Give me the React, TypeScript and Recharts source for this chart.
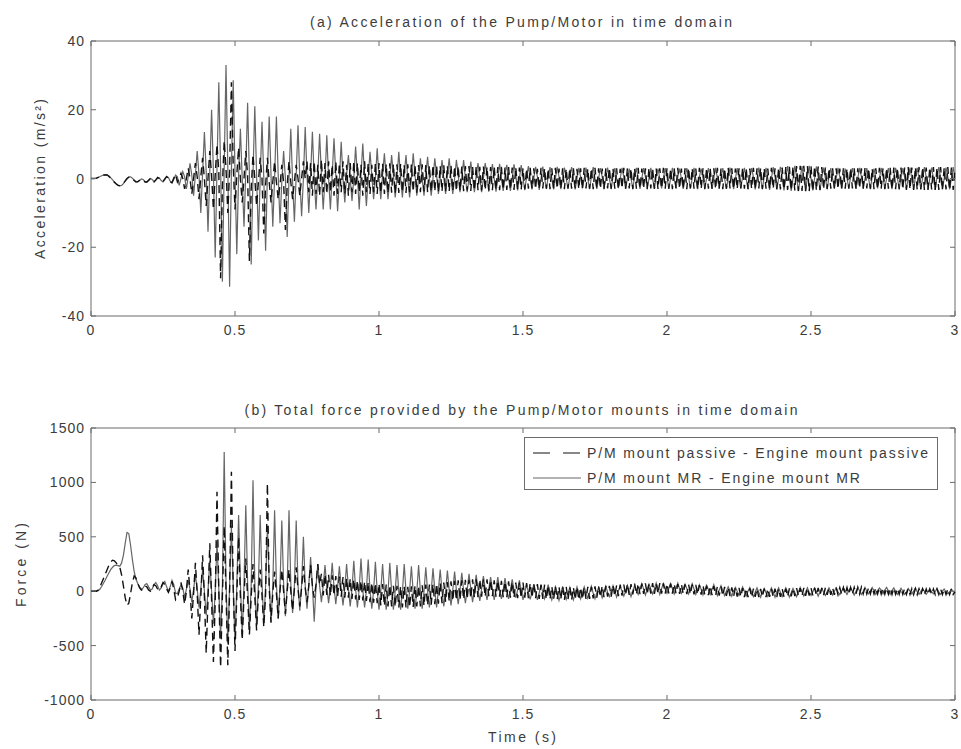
import React from 'react';
import { LineChart, Line, XAxis, YAxis, ReferenceArea, Legend } from 'recharts';

// sample step of the traces (s)
const DT = 0.00625;

const timeTicks = [0, 0.5, 1, 1.5, 2, 2.5, 3];
const accTicks = [-40, -20, 0, 20, 40];
const forceTicks = [-1000, -500, 0, 500, 1000, 1500];

const seriesNames = ['P/M mount passive - Engine mount passive', 'P/M mount MR - Engine mount MR'];

// (a) acceleration, m/s^2 -- MR mounts (solid)
const accMrEarly = [0, 0, 0, 0.1, 0.3, 0.6, 0.8, 1, 1.1, 1, 0.7, 0.2, -0.4, -1, -1.5, -1.9, -2.1, -2, -1.5, -0.8,
  -0.1, 0.4, 0.5, 0.1, -0.5, -0.9, -1, -0.6, -0.1, -0.3, -0.9, -1.1, -0.6, 0, -0.3, -0.9, -0.5, 0.2, 0.1, -0.6,
  -1, -0.3, 0.5, 0.3, -0.8, -1.3, -0.2, 1];
const accMrBurst = [0.5, -2, 0, 2, 0.5, -3, 0.5, 4.4, 1, -5, 1, 8, 1, -10, 1.5, 13.5, 2, -15.5, 2, 20,
  2, -23, 3, 28, 3, -30, 3, 33, 3, -31.5, 2, 28.6, 2, -22, 1, 14.5, 0, -14, 2, 22,
  1, -25, 1, 21, 1, -18, 0, 16.5, 0, -21, 1, 18, 1, -14, 0, 18, 1, -13, -1, 8,
  0, -17, 0, 14.5, -1, -12.6, 1, 15.5, 0, -11, 0, 15, 1, -10, 1, 13.6, 0, -9, 1, 13,
  1, -9, 0, 12.6, 0, -9, 1, 11.7, 1, -9.5, 0, 10.7, 0, -7, 1, 6.8, 0, -6.5, 0, 9.3,
  1, -9, 1, 10.2, 0, -8, 0, 7.8, 1, -6, 0, 8.8];
const accMrDecay = [0, -6, 1, 7.3, 0, -6, 0, 6.8, 1, -5.5, 0, 7.8, 0, -5.5, 1, 6.8, 0, -5.5, 0, 7.3,
  1, -5, 0, 5.9, 0, -5, 1, 6.3, 0, -5, 0, 5.9, 1, -4.5, 0, 5.4, 0, -4.5, 1, 5.9,
  0, -4.5, 0, 5.4, 1, -4, 0, 5.4, 0, -4, 0, 4.9, 0, -4, 1, 4.5, 0, -4, 0, 4.5,
  1, -3.8, 0, 4.2, 0, -3.8, 0, 4.3, 0, -3.6, 1, 4, 0, -3.6, 0, 4.1, 1, -3.5, 0, 3.9];
const accMrTail = [0, -3.4, 0.5, 3.6, 0, -3.2, 0, 3.4, 0.5, -3.3, 0, 3.5, 0, -3, 0.5, 3.3, 0, -3.2, 0, 3.4,
  0.5, -3.1, 0, 3.2, 0, -3, 0.5, 3.3, 0, -3.2, 0, 3.1, 0.5, -2.9, 0, 3.2, 0, -3.1, 0.5, 3.3,
  0, -3, 0, 3, 0.5, -2.9, 0, 3.2, 0, -3.1, 0.5, 3, 0, -2.8, 0, 3.1, 0.5, -3, 0, 2.9,
  0, -2.9, 0.5, 3.1, 0, -3, 0, 3, 0.5, -2.8, 0, 3.1, 0, -3, 0.5, 2.9, 0, -2.9, 0, 3,
  0.5, -3, 0, 3.1, 0, -2.8, 0.5, 2.9, 0, -3, 0, 3, 0.5, -2.9, 0, 3.1, 0, -3.1, 0.5, 2.9,
  0, -2.9, 0, 3, 0.5, -3, 0, 3.1, 0, -2.8, 0.5, 3, 0, -3, 0, 3.2, 0.5, -3.1, 0, 3,
  0, -2.9, 0.5, 3.1, 0, -3, 0, 3, 0.5, -3.2, 0, 3.2, 0, -3, 0.5, 3.1, 0, -3.3, 0, 3.3,
  0.5, -3.2, 0, 3.4, 0, -3.5, 0.5, 3.6, 0, -3.6, 0, 3.7, 0.5, -3.7, 0, 3.6, 0, -3.6, 0.5, 3.7,
  0, -3.5, 0, 3.5, 0.5, -3.3, 0, 3.2, 0, -3, 0.5, 3, 0, -2.9, 0, 3.1, 0.5, -3, 0, 2.9,
  0, -2.8, 0.5, 3, 0, -3, 0, 3.1, 0.5, -2.9, 0, 3, 0, -3.1, 0.5, 2.9, 0, -2.9, 0, 3.1,
  0.5, -3, 0, 3, 0, -3.1, 0.5, 3.1, 0, -2.9, 0, 3, 0.5, -3, 0, 3.2, 0, -3.2, 0.5, 3.1,
  0, -3, 0, 3.3, 0.5, -3.2, 0, 3.2, 0, -3.3, 0.5, 3.3, 0, -3.1, 0, 3.2, 0.5, -3.2, 0, 3.3,
  0];

// (a) acceleration, m/s^2 -- passive mounts (dashed)
const accPassiveEarly = [0, 0, 0, 0.1, 0.3, 0.5, 0.8, 1, 1, 1, 0.6, 0.1, -0.5, -1.1, -1.6, -2, -2.1, -1.9, -1.4, -0.7,
  0, 0.4, 0.4, 0, -0.6, -1, -0.9, -0.5, -0.2, -0.4, -1, -1, -0.5, 0, -0.4, -1, -0.4, 0.3, 0, -0.7,
  -0.9, -0.1, 0.6, 0.1, -1, -1.2, 0.1, 1.2];
const accPassiveBurst = [-1, 0, 1.5, 0, -3, 0, 3, 0, -4.5, 0, 4.5, 0.5, -6, 0.5, 6, 0, -8, 0, 8, 1,
  -9, 1, 10, 2, -29, -2, 11, 3, -10, 2, 28, 4, -9, 1, 9, 0, -7, 0, 8, 1,
  -24, -3, 7, 0, -8, -1, 6, 0, -16, -2, 6, -1, -7, -1, 5, -1, -6, -2, 4, -1,
  -15, -2, 5, -1, -6, -1, 4, 0, -5, 0, 5, 0,
  5, -4, 4.5, -5, 5, -4.5, 4, -5, 5.5, -4, 4.5, -4.5, 5, -4, 4, -5, 5, -4.5, 4.5, -4,
  5, -4.5, 4, -5, 4.5, -4, 5, -4.5, 4.5, -4, 4, -5, 5, -4, 4.5, -4.5, 4, -4, 4.5, -4.5];
const accPassiveDecay = [4.5, -4.2, 4.3, -4.5, 4.2, -4.3, 4.4, -4.1, 4.2, -4.4, 4.1, -4.2, 4.3, -4, 4, -4.2, 4.1, -4, 4.2, -3.9,
  4, -4.1, 3.9, -4, 4.1, -3.8, 3.9, -4, 3.8, -3.9, 4, -3.8, 3.8, -3.9, 3.7, -3.8, 3.9, -3.7, 3.7, -3.8,
  3.8, -3.6, 3.6, -3.7, 3.7, -3.6, 3.5, -3.7, 3.6, -3.5, 3.6, -3.6, 3.5, -3.5, 3.6, -3.4, 3.4, -3.5, 3.5, -3.4,
  3.4, -3.5, 3.3, -3.4, 3.5, -3.3, 3.3, -3.4, 3.4, -3.3, 3.2, -3.3, 3.3, -3.2, 3.2, -3.3, 3.3, -3.1, 3.2, -3.2];
const accPassiveTail = [3, -3.1, 2.9, -3, 3.1, -2.9, 3, -3.1, 2.8, -3, 3.1, -2.9, 3, -3, 2.9, -3.1, 3, -2.8, 3.1, -3,
  2.9, -3, 3, -3.1, 2.9, -2.9, 3.1, -3, 3, -2.9, 2.8, -3.1, 3, -3, 3.1, -2.9, 2.9, -3, 3, -3.1,
  3.1, -2.9, 3, -3, 2.9, -3.1, 3, -2.9, 3.1, -3, 2.9, -3, 3, -3.1, 2.8, -2.9, 3.1, -3, 3, -2.9,
  2.9, -3.1, 3, -3, 3.1, -2.9, 2.9, -3, 3, -3.1, 3.1, -2.9, 3, -3, 2.9, -3.1, 3, -2.9, 3.1, -3,
  3, -3, 2.9, -3.1, 3, -2.9, 3.1, -3, 2.9, -3, 3, -3.1, 3.1, -2.9, 3, -3, 2.9, -3.1, 3.1, -3,
  3, -3.1, 3.1, -3, 2.9, -3, 3, -3.1, 3.1, -3, 2.9, -3.1, 3, -3, 3.1, -2.9, 3, -3, 2.9, -3.1,
  3, -2.9, 3.1, -3, 3, -3.1, 2.9, -3, 3.1, -3, 3, -2.9, 3.1, -3.1, 3, -3, 2.9, -3, 3.1, -3,
  3, -3.1, 3.1, -3.2, 3.2, -3.2, 3.3, -3.3, 3.4, -3.4, 3.5, -3.5, 3.6, -3.6, 3.7, -3.6, 3.7, -3.7, 3.6, -3.7,
  3.7, -3.6, 3.6, -3.5, 3.5, -3.4, 3.3, -3.2, 3.2, -3.1, 3, -3, 3, -2.9, 3, -3.1, 2.9, -3, 3, -3,
  2.9, -3, 3.1, -2.9, 3, -3.1, 3, -2.9, 3, -3, 3.1, -2.9, 3, -3, 2.9, -3.1, 3, -3, 3.1, -3,
  3, -3.1, 3.1, -3, 3.1, -3.2, 3.2, -3.1, 3.1, -3.2, 3.2, -3.2, 3.2, -3.3, 3.3, -3.2, 3.2, -3.3, 3.3, -3.3,
  3.3, -3.2, 3.3, -3.3, 3.2, -3.3, 3.3, -3.2, 3.3, -3.3, 3.2, -3.3, 3.3, -3.3, 3.2, -3.2, 3.3, -3.3, 3.2, -3.3,
  3];

// (b) total mount force, N -- MR mounts (solid)
const forceMrEarly = [0, 0, 0, 0, 5, 20, 45, 75, 105, 140, 170, 200, 220, 235, 240, 235, 230, 260, 330, 440,
  540, 530, 420, 290, 180, 110, 70, 40, 20, 30, 60, 70, 40, 10, 20, 60, 80, 50, 10, 30,
  70, 90, 40, 0, 40, 100, 60, -20];
const forceMrBurst = [-20, 20, 60, 30, -60, 20, 100, 20, -100, 20, 150, 20, -150, 20, 200, 0, -220, 0, 280, 0,
  -300, 0, 450, 20, -420, 50, 1280, 100, -480, 50, 600, 50, -450, 50, 700, 80, -400, 60, 790, 80,
  -350, 60, 1020, 80, -320, 60, 700, 80, -300, 50, 600, 80, -280, 50, 745, 70, -250, 50, 650, 70,
  -230, 50, 745, 70, -200, 50, 650, 60, -180, 60, 500, 60, -160, 60, 315, 50, -280, 40, 250, 50,
  -100, 50, 240, 40, -110, 40, 260, 40, -120, 40, 230, 30, -130, 30, 250, 30, -140, 20, 280, 20,
  -150, 20, 300, 10, -150, 10, 290, 10, -160, 0, 270, 0];
const forceMrDecay = [-170, 0, 250, 0, -170, -10, 260, 0, -170, 0, 240, -10, -170, -10, 250, 0, -160, 0, 230, -10,
  -160, -10, 240, 0, -160, 0, 220, 0, -150, 0, 210, 10, -150, 10, 200, 0, -140, 0, 190, 10,
  -130, 10, 180, 10, -120, 10, 170, 10, -110, 10, 160, 20, -100, 20, 150, 20, -90, 20, 140, 20,
  -80, 20, 130, 20, -80, 20, 130, 10, -70, 10, 120, 10, -70, 10, 110, 10, -60, 10, 100, 0];
const forceMrTail = [-80, -10, 60, -10, -75, -10, 65, -5, -80, -15, 55, -10, -70, -10, 60, -15,
  -80, -20, 40, -20, -85, -25, 45, -20, -75, -20, 35, -25, -80, -20, 40, -15,
  -70, -15, 40, -15, -65, -10, 45, -20, -70, -15, 35, -10, -60, -10, 45, -10,
  -50, 0, 50, 0, -55, 5, 45, 0, -45, 0, 55, 5, -50, 5, 50, 10,
  -30, 20, 70, 20, -35, 15, 65, 20, -25, 20, 75, 25, -30, 25, 70, 20,
  -20, 25, 70, 25, -25, 30, 75, 20, -20, 25, 65, 25, -25, 20, 70, 20,
  -30, 15, 60, 15, -35, 10, 55, 15, -30, 15, 60, 10, -40, 10, 50, 5,
  -40, 0, 40, 0, -45, 5, 35, 0, -40, -5, 40, 0, -45, 0, 35, -5,
  -50, -10, 30, -10, -55, -10, 25, -15, -50, -15, 30, -10, -55, -10, 30, -10,
  -50, -10, 30, -10, -55, -15, 25, -10, -50, -10, 35, -5, -45, -10, 30, -10,
  -40, -5, 30, -5, -45, -5, 25, -10, -40, -5, 30, 0, -35, 0, 30, -5,
  -32, 0, 32, 0, -30, 5, 30, 0, -35, 0, 30, 5, -30, 0, 35, 0,
  -25, 5, 35, 5, -30, 5, 30, 10, -25, 10, 35, 5, -30, 5, 30, 0,
  -28, 0, 28, 0, -30, -5, 25, 0, -25, 0, 30, -5, -30, 0, 25, 0,
  -30, -5, 20, -5, -25, -5, 25, -5, -30, 0, 20, -5, -25, -5, 20, -5,
  -5];

// (b) total mount force, N -- passive mounts (dashed)
const forcePassiveEarly = [0, 0, 0, 0, 10, 40, 80, 120, 160, 200, 240, 270, 285, 280, 260, 240, 220, 150, 50, -60,
  -130, -110, -20, 80, 140, 120, 70, 30, 10, 20, 50, 40, 10, 0, 30, 60, 50, 20, 10, 40,
  80, 60, 20, -10, 30, 90, 20, -80];
const forcePassiveBurst = [-60, 0, 80, 0, -120, 0, 200, 0, -250, -20, 260, -20, -400, -50, 330, -50, -570, -80, 440, -80,
  -650, -100, 913, 0, -700, -50, 600, 0, -680, 0, 1097, 50, -550, -50, 500, -50, -450, -50, 300, -50,
  -400, -50, 250, -50, -360, -40, 200, -40, -330, -30, 990, 30, -290, -20, 180, -20, -250, 0, 200, 0,
  -210, 0, 200, 0, -180, 20, 220, 20, -140, 30, 230, 30, -100, 50, 240, 50, -60, 60, 250, 60,
  160, -40, 155, -35, 150, -45, 145, -40, 140, -50, 135, -50, 130, -60, 120, -60,
  115, -70, 110, -75, 100, -80, 95, -85, 90, -90, 85, -100, 80, -105, 75, -110];
const forcePassiveDecay = [70, -130, 65, -135, 60, -140, 55, -140, 50, -145, 50, -150, 45, -150, 45, -150, 40, -150, 45, -145,
  50, -140, 50, -140, 55, -135, 60, -130, 60, -125, 65, -120, 70, -115, 75, -110, 80, -100, 85, -95,
  90, -90, 95, -85, 100, -80, 100, -75, 105, -70, 105, -65, 110, -60, 110, -55, 110, -50, 110, -50,
  110, -45, 105, -45, 100, -50, 100, -50, 95, -55, 90, -55, 90, -60, 85, -60, 80, -65, 80, -65];
const forcePassiveTail = [80, -60, 75, -65, 75, -60, 70, -65, 65, -70, 60, -70, 60, -75, 55, -75,
  45, -75, 45, -75, 40, -75, 45, -80, 40, -75, 40, -80, 35, -75, 40, -80,
  35, -75, 35, -70, 40, -70, 40, -65, 45, -60, 45, -55, 50, -55, 50, -50,
  50, -50, 55, -45, 55, -45, 60, -40, 60, -35, 65, -35, 65, -30, 70, -30,
  70, -28, 70, -25, 72, -25, 70, -22, 74, -24, 72, -22, 75, -23, 73, -22,
  70, -20, 70, -22, 68, -22, 66, -25, 65, -25, 63, -28, 62, -28, 60, -30,
  57, -30, 55, -32, 52, -34, 50, -35, 48, -37, 46, -38, 44, -40, 42, -42,
  40, -42, 37, -45, 35, -48, 32, -50, 30, -52, 28, -54, 26, -55, 25, -56,
  23, -53, 24, -54, 22, -52, 23, -54, 24, -53, 22, -52, 23, -54, 24, -53,
  22, -52, 24, -50, 25, -48, 27, -46, 28, -44, 29, -42, 30, -42, 31, -40,
  29, -38, 30, -37, 31, -36, 31, -35, 32, -34, 33, -33, 33, -33, 32, -32,
  32, -30, 33, -29, 34, -28, 35, -27, 35, -26, 36, -26, 36, -25, 36, -25,
  35, -24, 34, -25, 33, -26, 32, -27, 31, -28, 30, -28, 29, -29, 29, -29,
  27, -28, 26, -29, 25, -30, 24, -30, 23, -31, 23, -32, 22, -32, 22, -32,
  20, -30, 21, -30, 20, -31, 20, -30, 21, -30, 20, -30, 20, -31, 21, -30,
  -5];

// each segment carries its own start time
function toPoints(segments: [number, number[]][]) {
  const pts: { t: number; y: number }[] = [];
  segments.forEach(([start, ys]) => {
    ys.forEach((y, j) => pts.push({ t: +(start + j * DT).toFixed(5), y }));
  });
  return pts;
}

const accMr = toPoints([[0, accMrEarly], [0.3, accMrBurst], [1, accMrDecay], [1.5, accMrTail]]);
const accPassive = toPoints([[0, accPassiveEarly], [0.3, accPassiveBurst], [1, accPassiveDecay], [1.5, accPassiveTail]]);
const forceMr = toPoints([[0, forceMrEarly], [0.3, forceMrBurst], [1, forceMrDecay], [1.5, forceMrTail]]);
const forcePassive = toPoints([[0, forcePassiveEarly], [0.3, forcePassiveBurst], [1, forcePassiveDecay], [1.5, forcePassiveTail]]);

const FONT = '"Liberation Sans", Arial, Helvetica, sans-serif';
const AXIS = '#6b6b6b';
const INK = '#3c3c3c';
const MR_COLOR = '#666';
const PASSIVE_COLOR = '#111';

const PLOT_LEFT = 91;
const PLOT_RIGHT = 955;

function XTick(props: any) {
  const { x, payload, top, bottom } = props;
  return (
    <g>
      <line x1={x} x2={x} y1={bottom} y2={bottom - 5} stroke={AXIS} />
      <line x1={x} x2={x} y1={top} y2={top + 5} stroke={AXIS} />
      <text x={x} y={bottom + 14} textAnchor="middle" dominantBaseline="central" fontSize={14}
        letterSpacing={1} fill={INK} fontFamily={FONT}>{payload.value}</text>
    </g>
  );
}

function YTick(props: any) {
  const { y, payload } = props;
  return (
    <g>
      <line x1={PLOT_LEFT} x2={PLOT_LEFT + 5} y1={y} y2={y} stroke={AXIS} />
      <line x1={PLOT_RIGHT} x2={PLOT_RIGHT - 5} y1={y} y2={y} stroke={AXIS} />
      <text x={PLOT_LEFT - 6} y={y} textAnchor="end" dominantBaseline="central" fontSize={14}
        letterSpacing={1} fill={INK} fontFamily={FONT}>{payload.value}</text>
    </g>
  );
}

function LegendBox() {
  return (
    <svg width={415} height={54} style={{ display: 'block' }}>
      <rect x={0.5} y={0.5} width={413} height={52} fill="#fff" stroke={AXIS} />
      <line x1={9} x2={57} y1={16} y2={16} stroke={PASSIVE_COLOR} strokeWidth={1} strokeDasharray="17 13" />
      <text x={63} y={16} dominantBaseline="central" fontSize={14} fill={INK} fontFamily={FONT}
        textLength={341} lengthAdjust="spacing">{seriesNames[0]}</text>
      <line x1={9} x2={57} y1={41} y2={41} stroke={MR_COLOR} strokeWidth={1} />
      <text x={63} y={41} dominantBaseline="central" fontSize={14} fill={INK} fontFamily={FONT}
        textLength={273} lengthAdjust="spacing">{seriesNames[1]}</text>
    </svg>
  );
}

export default function App() {
  return (
    <div style={{ position: 'absolute', left: 0, top: 0, width: 961, height: 749, background: '#fff', overflow: 'hidden' }}>
      <div style={{ position: 'absolute', left: 0, top: 0 }}>
        <LineChart width={961} height={350} margin={{ top: 41, right: 6, bottom: 4, left: 31 }}>
          <XAxis type="number" dataKey="t" domain={[0, 3]} ticks={timeTicks} height={30}
            axisLine={false} tickLine={false} interval={0}
            tick={(p: any) => <XTick {...p} top={41} bottom={316} />} />
          <YAxis type="number" domain={[-40, 40]} ticks={accTicks} width={60}
            axisLine={false} tickLine={false} interval={0} tick={(p: any) => <YTick {...p} />} />
          <Line data={accMr} dataKey="y" name={seriesNames[1]} type="linear" stroke={MR_COLOR}
            strokeWidth={1.2} dot={false} isAnimationActive={false} />
          <Line data={accPassive} dataKey="y" name={seriesNames[0]} type="linear" stroke={PASSIVE_COLOR}
            strokeWidth={1.4} strokeDasharray="8 5" dot={false} isAnimationActive={false} />
          <ReferenceArea x1={0} x2={3} y1={-40} y2={40} fill="none" stroke={AXIS} strokeWidth={1} ifOverflow="visible" />
        </LineChart>
      </div>
      <div style={{ position: 'absolute', left: 0, top: 387 }}>
        <LineChart width={961} height={362} margin={{ top: 41, right: 6, bottom: 4, left: 31 }}>
          <XAxis type="number" dataKey="t" domain={[0, 3]} ticks={timeTicks} height={45}
            axisLine={false} tickLine={false} interval={0}
            tick={(p: any) => <XTick {...p} top={41} bottom={313} />} />
          <YAxis type="number" domain={[-1000, 1500]} ticks={forceTicks} width={60}
            axisLine={false} tickLine={false} interval={0} tick={(p: any) => <YTick {...p} />} />
          <Line data={forceMr} dataKey="y" name={seriesNames[1]} type="linear" stroke={MR_COLOR}
            strokeWidth={1.2} dot={false} isAnimationActive={false} />
          <Line data={forcePassive} dataKey="y" name={seriesNames[0]} type="linear" stroke={PASSIVE_COLOR}
            strokeWidth={1.4} strokeDasharray="8 5" dot={false} isAnimationActive={false} />
          <ReferenceArea x1={0} x2={3} y1={-1000} y2={1500} fill="none" stroke={AXIS} strokeWidth={1} ifOverflow="visible" />
          <Legend layout="vertical" align="center" verticalAlign="middle"
            wrapperStyle={{ position: 'absolute', left: 524, top: 50, width: 415, height: 54 }}
            content={() => <LegendBox />} />
        </LineChart>
      </div>
      <svg width={961} height={749} style={{ position: 'absolute', left: 0, top: 0, pointerEvents: 'none' }}>
        <text x={521} y={22} textAnchor="middle" dominantBaseline="central" fontSize={14} fill={INK}
          fontFamily={FONT} textLength={422} lengthAdjust="spacing">(a) Acceleration of the Pump/Motor in time domain</text>
        <text x={521} y={410} textAnchor="middle" dominantBaseline="central" fontSize={14} fill={INK}
          fontFamily={FONT} textLength={553} lengthAdjust="spacing">(b) Total force provided by the Pump/Motor mounts in time domain</text>
        <text transform="translate(40 179) rotate(-90)" textAnchor="middle" dominantBaseline="central" fontSize={14}
          fill={INK} fontFamily={FONT} textLength={160} lengthAdjust="spacing">Acceleration (m/s²)</text>
        <text transform="translate(21 565) rotate(-90)" textAnchor="middle" dominantBaseline="central" fontSize={14}
          fill={INK} fontFamily={FONT} textLength={84} lengthAdjust="spacing">Force (N)</text>
        <text x={522} y={737} textAnchor="middle" dominantBaseline="central" fontSize={14} fill={INK}
          fontFamily={FONT} textLength={68} lengthAdjust="spacing">Time (s)</text>
      </svg>
    </div>
  );
}
